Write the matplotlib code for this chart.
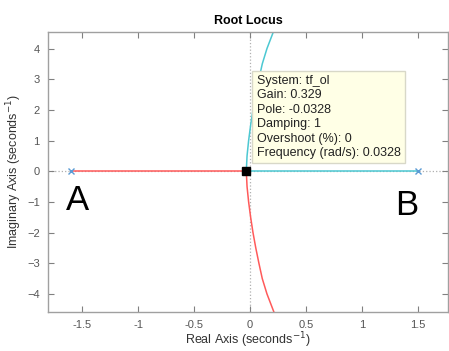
import matplotlib
matplotlib.use('Agg')
import matplotlib.pyplot as plt
import numpy as np

plt.rcParams['font.family'] = ['Liberation Sans', 'DejaVu Sans']

# open-loop poles and the selected point
poles = [-1.6, 1.5]
pole_sel = -0.0328

# complex branch (upper half; lower is the mirror)
branch_im = [0.0, 0.5, 1.0, 1.5, 2.0, 2.5, 3.0, 3.5, 4.0, 4.6]
branch_re = [-0.0328, -0.026, -0.012, 0.006, 0.027, 0.052, 0.08, 0.11, 0.152, 0.215]

info_lines = ['System: tf_ol', 'Gain: 0.329', 'Pole: -0.0328', 'Damping: 1',
              'Overshoot (%): 0', 'Frequency (rad/s): 0.0328']

red = '#ff5a5a'
cyan = '#4cc8d2'
grey = '#808080'

fig = plt.figure(figsize=(4.49, 3.51), dpi=100)
ax = fig.add_axes([48 / 449, 39 / 351, 400 / 449, 280 / 351])

# dotted axes through origin
ax.axhline(0, color='#b0b0b0', ls=':', lw=0.9, zorder=1)
ax.axvline(0, color='#b0b0b0', ls=':', lw=0.9, zorder=1)

# real-axis segments
ax.plot([poles[0], pole_sel], [0, 0], color=red, lw=1.1, zorder=2)
ax.plot([poles[1], pole_sel], [0, 0], color=cyan, lw=1.1, zorder=2)

re = np.array(branch_re)
im = np.array(branch_im)
ax.plot(re, im, color=cyan, lw=1.1, zorder=2)
ax.plot(re, -im, color=red, lw=1.1, zorder=2)

ax.plot(poles, [0, 0], 'x', color='#5b9bd5', ms=5, mew=1, zorder=3)
ax.plot([pole_sel], [0], 's', color='black', ms=6, zorder=5)

ax.set_xlim(-1.805, 1.77)
ax.set_ylim(-4.59, 4.54)
ax.set_xticks([-1.5, -1, -0.5, 0, 0.5, 1, 1.5])
ax.set_xticklabels(['-1.5', '-1', '-0.5', '0', '0.5', '1', '1.5'])
ax.set_yticks([-4, -3, -2, -1, 0, 1, 2, 3, 4])

ax.tick_params(direction='in', top=True, right=True, length=4, width=0.8,
               colors=grey, labelsize=8, labelcolor='#555555', pad=6)
for sp in ax.spines.values():
    sp.set_color('#a0a0a0')
    sp.set_linewidth(1.0)

ax.set_title('Root Locus', fontsize=9, fontweight='bold', pad=6)
ax.set_xlabel('Real Axis (seconds$^{-1}$)', fontsize=9, color='#333333', labelpad=0)
ax.set_ylabel('Imaginary Axis (seconds$^{-1}$)', fontsize=9, color='#333333', labelpad=2)

ax.text(0.06, 3.14, '\n'.join(info_lines), fontsize=9, color='#222222',
        va='top', ha='left', linespacing=1.27, zorder=6,
        bbox=dict(boxstyle='square,pad=0.35', fc='#ffffe6', ec='#d8d8c8', lw=1))

ax.text(-1.545, -0.95, 'A', fontsize=25, ha='center', va='center', zorder=6)
ax.text(1.40, -1.12, 'B', fontsize=25, ha='center', va='center', zorder=6)

fig.savefig('out.png', dpi=100)
